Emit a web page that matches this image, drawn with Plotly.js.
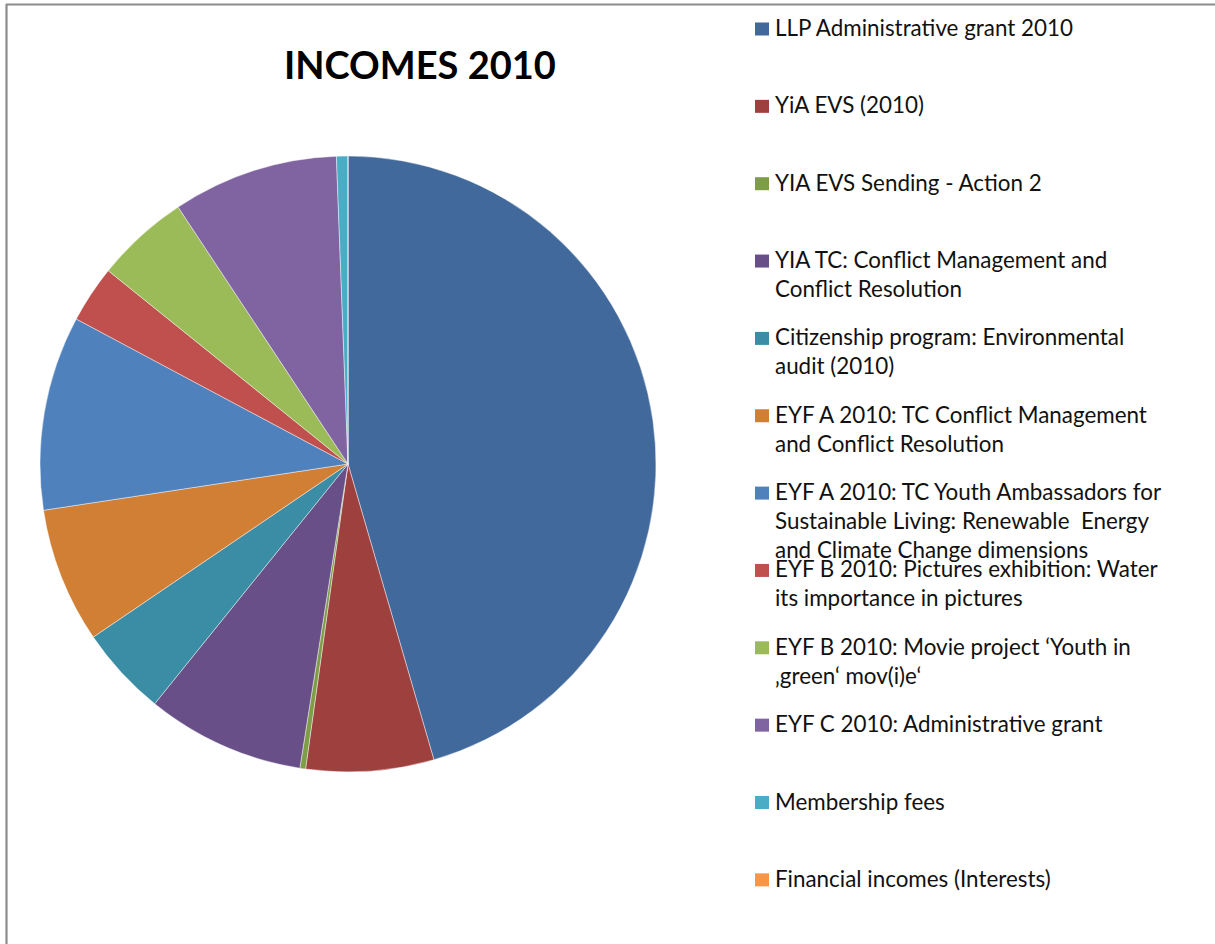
<!DOCTYPE html>
<html>
<head>
<meta charset="utf-8">
<script src="https://cdn.plot.ly/plotly-3.0.1.min.js"></script>
<style>html,body{margin:0;padding:0;background:#fff;}#chart{width:1215px;height:944px;}</style>
</head>
<body>
<div id="chart"></div>
<script>
const chartTitle = "INCOMES 2010";
const categories = [
  "LLP Administrative grant 2010",
  "YiA EVS (2010)",
  "YIA EVS Sending - Action 2",
  "YIA TC: Conflict Management and Conflict Resolution",
  "Citizenship program: Environmental audit (2010)",
  "EYF A 2010: TC Conflict Management and Conflict Resolution",
  "EYF A 2010: TC Youth Ambassadors for Sustainable Living: Renewable  Energy and Climate Change dimensions",
  "EYF B 2010: Pictures exhibition: Water its importance in pictures",
  "EYF B 2010: Movie project \u2018Youth in \u201agreen\u2018 mov(i)e\u2018",
  "EYF C 2010: Administrative grant",
  "Membership fees",
  "Financial incomes (Interests)"
];
const legendLines = [
  ["LLP Administrative grant 2010"],
  ["YiA EVS (2010)"],
  ["YIA EVS Sending - Action 2"],
  ["YIA TC: Conflict Management and", "Conflict Resolution"],
  ["Citizenship program: Environmental", "audit (2010)"],
  ["EYF A 2010: TC Conflict Management", "and Conflict Resolution"],
  ["EYF A 2010: TC Youth Ambassadors for", "Sustainable Living: Renewable  Energy", "and Climate Change dimensions"],
  ["EYF B 2010: Pictures exhibition: Water", "its importance in pictures"],
  ["EYF B 2010: Movie project \u2018Youth in", "\u201agreen\u2018 mov(i)e\u2018"],
  ["EYF C 2010: Administrative grant"],
  ["Membership fees"],
  ["Financial incomes (Interests)"]
];
// share of total income, percent
const values = [45.5, 6.7, 0.3, 8.3, 4.7, 7.1, 10.2, 3.0, 4.9, 8.7, 0.6, 0.0];
const colors = ["#41699B", "#9E413E", "#7E9D47", "#694F87", "#3A8DA4", "#D07F35",
                "#4F81BD", "#C0504D", "#9BBB59", "#8064A2", "#4BACC6", "#F79646"];

const W = 1215, H = 944;
const cx = 348, cy = 464, R = 308;
const px = x => x / W, py = y => 1 - y / H;

const trace = {
  type: "pie",
  labels: categories,
  values: values,
  sort: false,
  direction: "clockwise",
  rotation: 0,
  textinfo: "none",
  hoverinfo: "label+percent",
  marker: { colors: colors, line: { color: "rgba(255,255,255,0.55)", width: 0.8 } },
  domain: { x: [px(cx - R), px(cx + R)], y: [py(cy + R), py(cy - R)] },
  showlegend: false
};

const annotations = [{
  text: "<b>" + chartTitle + "</b>",
  xref: "paper", yref: "paper", x: px(420), y: py(64),
  xanchor: "center", yanchor: "middle", showarrow: false,
  font: { family: "Lato, sans-serif", size: 38, color: "#000" }
}];
const shapes = [
  { type: "line", xref: "paper", yref: "paper", x0: px(6), x1: 1, y0: py(4.5), y1: py(4.5), line: { color: "#8c8c8c", width: 2.2 } },
  { type: "line", xref: "paper", yref: "paper", x0: px(6.5), x1: px(6.5), y0: py(4), y1: 0, line: { color: "#8c8c8c", width: 2.2 } }
];
const legTop = 29, legStep = 77.35, lineStep = 28.8;
legendLines.forEach((lines, i) => {
  const yc = legTop + i * legStep;
  shapes.push({ type: "rect", xref: "paper", yref: "paper",
    x0: px(755), x1: px(769), y0: py(yc + 6.5), y1: py(yc - 6.5),
    fillcolor: colors[i], line: { width: 0 } });
  lines.forEach((ln, k) => {
    annotations.push({
      text: ln, xref: "paper", yref: "paper",
      x: px(773), y: py(yc + k * lineStep - 1.5),
      xanchor: "left", yanchor: "middle", showarrow: false,
      font: { family: "Lato, sans-serif", size: 22.4, color: "#111" }
    });
  });
});

Plotly.newPlot("chart", [trace], {
  width: W, height: H,
  margin: { l: 0, r: 0, t: 0, b: 0 },
  paper_bgcolor: "#fff",
  showlegend: false,
  annotations: annotations,
  shapes: shapes
}, { staticPlot: true });
</script>
</body>
</html>
